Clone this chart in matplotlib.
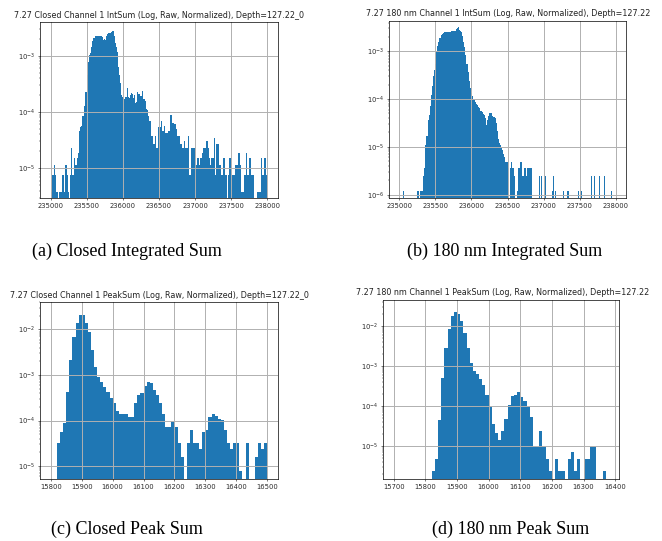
import numpy as np
import matplotlib
matplotlib.use("Agg")
import matplotlib.pyplot as plt

# ---------------- data (bin counts) ----------------
# (a) Closed IntSum: 200 bins, 235000..238000
a_range = (235000, 238000)
a_unit = 3.8e-6
a_counts = [
    1, 2, 2, 3, 2, 1, 1, 0, 1, 1,
    2, 2, 1, 3, 3, 2, 1, 0, 2, 6,
    2, 4, 3, 3, 4, 5, 12, 14, 15, 22,
    22, 34, 60, 120, 205, 270, 300, 382, 486, 537,
    545, 590, 590, 600, 590, 600, 590, 560, 510, 520,
    510, 590, 640, 658, 660, 670, 700, 720, 600, 450,
    380, 310, 168, 119, 85, 53, 48, 46, 44, 48,
    69, 48, 46, 52, 58, 56, 46, 52, 38, 40,
    60, 55, 50, 50, 62, 45, 44, 42, 30, 28,
    22, 18, 18, 10, 7, 7, 10, 6, 6, 14,
    14, 14, 18, 12, 12, 15, 11, 11, 12, 12,
    23, 23, 17, 17, 16, 16, 13, 10, 10, 7,
    7, 6, 6, 8, 6, 6, 6, 10, 2, 2,
    6, 6, 6, 3, 3, 4, 4, 3, 4, 4,
    5, 6, 6, 8, 8, 6, 4, 3, 4, 4,
    4, 9, 2, 7, 7, 3, 3, 2, 2, 4,
    4, 2, 2, 0, 2, 4, 4, 2, 2, 2,
    3, 3, 3, 5, 5, 3, 1, 1, 1, 2,
    5, 2, 2, 4, 4, 2, 2, 2, 0, 0,
    0, 1, 1, 1, 4, 2, 2, 4, 4, 2,
]

# (b) 180 nm IntSum: 200 bins, 235000..238000
b_range = (235000, 238000)
b_unit = 1.2e-6
b_counts = [
    0, 0, 0, 1, 0, 0, 0, 0, 0, 0,
    0, 0, 0, 0, 0, 0, 1, 1, 0, 1,
    1, 1, 2, 3, 9, 14, 30, 39, 60, 100,
    155, 250, 330, 460, 800, 1100, 1300, 1600, 1830, 1950,
    2000, 2100, 2100, 2080, 2100, 2120, 2100, 2150, 2180, 2250,
    2250, 2250, 2400, 2500, 2650, 2300, 2250, 2100, 1700, 1300,
    1000, 700, 450, 300, 200, 140, 110, 95, 85, 78,
    72, 66, 62, 58, 54, 48, 44, 40, 38, 34,
    24, 30, 37, 42, 43, 43, 37, 35, 33, 26,
    18, 12, 10, 9, 8, 7, 6, 5, 4, 4,
    3, 0, 3, 4, 3, 3, 2, 0, 0, 1,
    3, 3, 4, 2, 2, 3, 3, 2, 3, 3,
    3, 3, 3, 0, 0, 0, 0, 0, 0, 2,
    0, 2, 0, 0, 0, 2, 0, 0, 0, 0,
    0, 1, 2, 0, 1, 0, 0, 0, 0, 0,
    0, 1, 0, 0, 0, 1, 1, 0, 0, 0,
    0, 0, 0, 0, 0, 1, 0, 0, 1, 0,
    0, 0, 0, 0, 0, 0, 0, 2, 0, 0,
    2, 0, 0, 0, 0, 2, 0, 0, 0, 2,
    0, 0, 0, 0, 0, 0, 1, 0, 0, 0,
]

# (c) Closed PeakSum: 70 bins, 15800..16500
c_range = (15800, 16500)
c_unit = 7.9e-6
c_counts = [
    0, 0, 4, 7, 11, 54, 265, 870, 1780, 2560,
    2560, 1750, 1100, 450, 186, 112, 90, 68, 54, 40,
    30, 20, 18, 18, 18, 15, 15, 31, 46, 50,
    72, 88, 86, 59, 46, 30, 18, 9, 9, 12,
    9, 4, 2, 0, 4, 8, 4, 4, 3, 7,
    8, 15, 18, 16, 14, 13, 8, 4, 3, 4,
    4, 1, 0, 4, 0, 0, 2, 4, 3, 4,
]

# (d) 180 nm PeakSum: 68 bins, 15700..16380
d_range = (15700, 16380)
d_unit = 2.4e-6
d_counts = [
    0, 0, 0, 0, 0, 0, 0, 0, 0, 0,
    0, 0, 1, 2, 19, 204, 1150, 3400, 7300, 9300,
    8300, 5500, 2800, 1150, 500, 315, 260, 200, 138, 78,
    40, 15, 9, 6, 10, 20, 44, 74, 78, 94,
    70, 55, 40, 22, 4, 4, 10, 4, 2, 1,
    0, 2, 1, 1, 0, 2, 3, 1, 2, 0,
    2, 2, 4, 4, 0, 0, 1, 0,
]

titles = [
    "7.27 Closed Channel 1 IntSum (Log, Raw, Normalized), Depth=127.22_0",
    "7.27 180 nm Channel 1 IntSum (Log, Raw, Normalized), Depth=127.22",
    "7.27 Closed Channel 1 PeakSum (Log, Raw, Normalized), Depth=127.22_0",
    "7.27 180 nm Channel 1 PeakSum (Log, Raw, Normalized), Depth=127.22",
]
captions = [
    "(a) Closed Integrated Sum",
    "(b) 180 nm Integrated Sum",
    "(c) Closed Peak Sum",
    "(d) 180 nm Peak Sum",
]
a_xticks = [235000, 235500, 236000, 236500, 237000, 237500, 238000]
b_xticks = [235000, 235500, 236000, 236500, 237000, 237500, 238000]
c_xticks = [15800, 15900, 16000, 16100, 16200, 16300, 16400, 16500]
d_xticks = [15700, 15800, 15900, 16000, 16100, 16200, 16300, 16400]
a_yticks = [1e-5, 1e-4, 1e-3]
b_yticks = [1e-6, 1e-5, 1e-4, 1e-3]
c_yticks = [1e-5, 1e-4, 1e-3, 1e-2]
d_yticks = [1e-5, 1e-4, 1e-3, 1e-2]

# ---------------- style ----------------
W, H = 662, 541
plt.rcParams.update({
    "font.family": ["DejaVu Sans"],
    "axes.linewidth": 0.5,
    "xtick.major.size": 1.7, "ytick.major.size": 1.7,
    "xtick.major.width": 0.45, "ytick.major.width": 0.45,
    "xtick.minor.size": 1.0, "ytick.minor.size": 1.0,
    "xtick.minor.width": 0.35, "ytick.minor.width": 0.35,
    "xtick.major.pad": 1.7, "ytick.major.pad": 1.7,
    "xtick.labelsize": 4.9, "ytick.labelsize": 4.9,
    "xtick.color": "#2a2a2a", "ytick.color": "#2a2a2a",
    "grid.color": "#b0b0b0", "grid.linewidth": 0.7,
})

fig = plt.figure(figsize=(W / 100, H / 100), dpi=100)


def px_axes(l, t, r, b):
    return fig.add_axes([l / W, 1 - b / H, (r - l) / W, (b - t) / H])


panels = [
    dict(box=(40, 22, 278, 198), rng=a_range, cnt=a_counts, unit=a_unit,
         xl=(234850, 238150), yl=(2.95e-6, 3.98e-3), xt=a_xticks, yt=a_yticks),
    dict(box=(389, 21, 626, 198), rng=b_range, cnt=b_counts, unit=b_unit,
         xl=(234855, 238145), yl=(8.5e-7, 4.3e-3), xt=b_xticks, yt=b_yticks),
    dict(box=(40, 302, 278, 479), rng=c_range, cnt=c_counts, unit=c_unit,
         xl=(15765, 16535), yl=(5.2e-6, 4.0e-2), xt=c_xticks, yt=c_yticks),
    dict(box=(383, 300, 619, 479), rng=d_range, cnt=d_counts, unit=d_unit,
         xl=(15666, 16412), yl=(1.5e-6, 4.4e-2), xt=d_xticks, yt=d_yticks),
]

for idx, p in enumerate(panels):
    ax = px_axes(*p["box"])
    cnt = np.asarray(p["cnt"], dtype=float)
    edges = np.linspace(p["rng"][0], p["rng"][1], len(cnt) + 1)
    heights = cnt * p["unit"]
    ax.hist(edges[:-1], bins=edges, weights=heights, color="#1f77b4")
    ax.set_yscale("log")
    ax.set_xlim(*p["xl"])
    ax.set_ylim(*p["yl"])
    ax.set_xticks(p["xt"])
    ax.set_xticklabels([str(v) for v in p["xt"]])
    ax.set_yticks(p["yt"])
    ax.grid(True, which="major")
    if idx in (0, 2):
        ax.set_title(titles[idx], fontsize=5.75, pad=2.6, color="#222222")
    else:
        # right-column titles are cut at the image edge in the source; show visible part
        l, t, r, b = p["box"]
        x0 = 366 if idx == 1 else 356
        fig.text(x0 / W, 1 - (t - 7.5) / H, titles[idx], fontsize=5.75,
                 ha="left", va="center", color="#222222")

cap_pos = [(127, 251), (505, 251), (127, 529), (511, 529)]
for (cx, cy), txt in zip(cap_pos, captions):
    fig.text(cx / W, 1 - cy / H, txt, fontsize=13, ha="center", va="center",
             family=["Liberation Serif", "DejaVu Serif"])

fig.savefig("out.png", dpi=100)
